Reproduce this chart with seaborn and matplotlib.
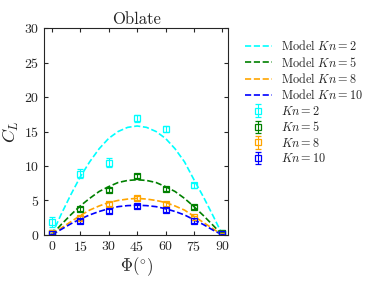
"""Lift coefficient vs angle for oblate particles, model curves and measurements."""
import matplotlib
matplotlib.use("Agg")
import matplotlib.pyplot as plt
import pandas as pd
import seaborn as sns

sns.set_style("ticks")
plt.rcParams["font.family"] = "serif"
plt.rcParams["font.serif"] = ["cmr10", "DejaVu Serif"]
plt.rcParams["mathtext.fontset"] = "cm"
plt.rcParams["axes.formatter.use_mathtext"] = True

KN = [2, 5, 8, 10]
COLORS = ["cyan", "green", "orange", "blue"]

# model curves, every 5 degrees
PHI_MODEL = [0, 5, 10, 15, 20, 25, 30, 35, 40, 45, 50, 55, 60, 65, 70, 75, 80, 85, 90]
MODEL_KN2 = [0.0, 3.0, 5.8, 8.4, 10.6, 12.5, 14.0, 15.0, 15.6, 15.8, 15.6, 15.0, 14.0,
             12.5, 10.6, 8.0, 5.5, 2.8, 0.0]
MODEL_KN5 = [0.0, 1.5, 2.9, 4.2, 5.3, 6.3, 7.0, 7.6, 7.9, 8.0, 7.9, 7.6, 7.0,
             6.3, 5.3, 4.1, 2.8, 1.4, 0.0]
MODEL_KN8 = [0.0, 1.0, 1.9, 2.8, 3.6, 4.2, 4.7, 5.0, 5.2, 5.3, 5.2, 5.0, 4.7,
             4.2, 3.6, 2.7, 1.8, 0.9, 0.0]
MODEL_KN10 = [0.0, 0.8, 1.6, 2.3, 2.9, 3.4, 3.8, 4.1, 4.25, 4.3, 4.25, 4.1, 3.8,
              3.4, 2.9, 2.2, 1.5, 0.7, 0.0]

# measured points with error bars
PHI_DATA = [0, 15, 30, 45, 60, 75, 90]
DATA_KN2 = [1.9, 8.9, 10.5, 16.9, 15.4, 7.2, 0.3]
ERR_KN2 = [0.7, 0.6, 0.6, 0.5, 0.4, 0.4, 0.2]
DATA_KN5 = [0.3, 3.7, 6.5, 8.5, 6.7, 4.1, 0.3]
ERR_KN5 = [0.2, 0.3, 0.3, 0.3, 0.3, 0.3, 0.1]
DATA_KN8 = [0.3, 2.5, 4.5, 5.3, 4.5, 2.6, 0.2]
ERR_KN8 = [0.2, 0.3, 0.3, 0.3, 0.3, 0.2, 0.1]
DATA_KN10 = [0.1, 2.0, 3.5, 4.2, 3.6, 2.0, 0.1]
ERR_KN10 = [0.1, 0.3, 0.3, 0.3, 0.3, 0.2, 0.1]

models = [MODEL_KN2, MODEL_KN5, MODEL_KN8, MODEL_KN10]
datas = [DATA_KN2, DATA_KN5, DATA_KN8, DATA_KN10]
errs = [ERR_KN2, ERR_KN5, ERR_KN8, ERR_KN10]

model_df = pd.concat([pd.DataFrame({"phi": PHI_MODEL, "cl": m, "kn": k})
                      for k, m in zip(KN, models)])

fig = plt.figure(figsize=(3.74, 2.81), dpi=100)
ax = fig.add_axes([0.118, 0.164, 0.492, 0.736])

for k, c in zip(KN, COLORS):
    sub = model_df[model_df["kn"] == k]
    sns.lineplot(data=sub, x="phi", y="cl", color=c, ls="--", lw=1.2,
                 label=rf"Model $Kn={k}$", ax=ax)

for k, c, d, e in zip(KN, COLORS, datas, errs):
    ax.errorbar(PHI_DATA, d, yerr=e, fmt="s", mfc="none", mec=c, ecolor=c,
                ms=5, mew=0.9, capsize=2, elinewidth=0.8, label=rf"$Kn={k}$")

ax.set_xlim(-4, 93)
ax.set_ylim(0, 30)
ax.set_xticks([0, 15, 30, 45, 60, 75, 90])
ax.set_yticks([0, 5, 10, 15, 20, 25, 30])
ax.tick_params(direction="in", top=True, right=True, labelsize=10, length=3)
ax.set_xlabel(r"$\Phi(^{\circ})$", fontsize=12, labelpad=1)
ax.set_ylabel(r"$C_L$", fontsize=13, labelpad=2)
ax.set_title("Oblate", fontsize=12, pad=3)
for s in ax.spines.values():
    s.set_linewidth(0.8)

ax.legend(loc="upper left", bbox_to_anchor=(1.03, 1.0), frameon=False,
          fontsize=8.8, handlelength=2.2, labelspacing=0.2)

fig.savefig("out.png", dpi=100)
